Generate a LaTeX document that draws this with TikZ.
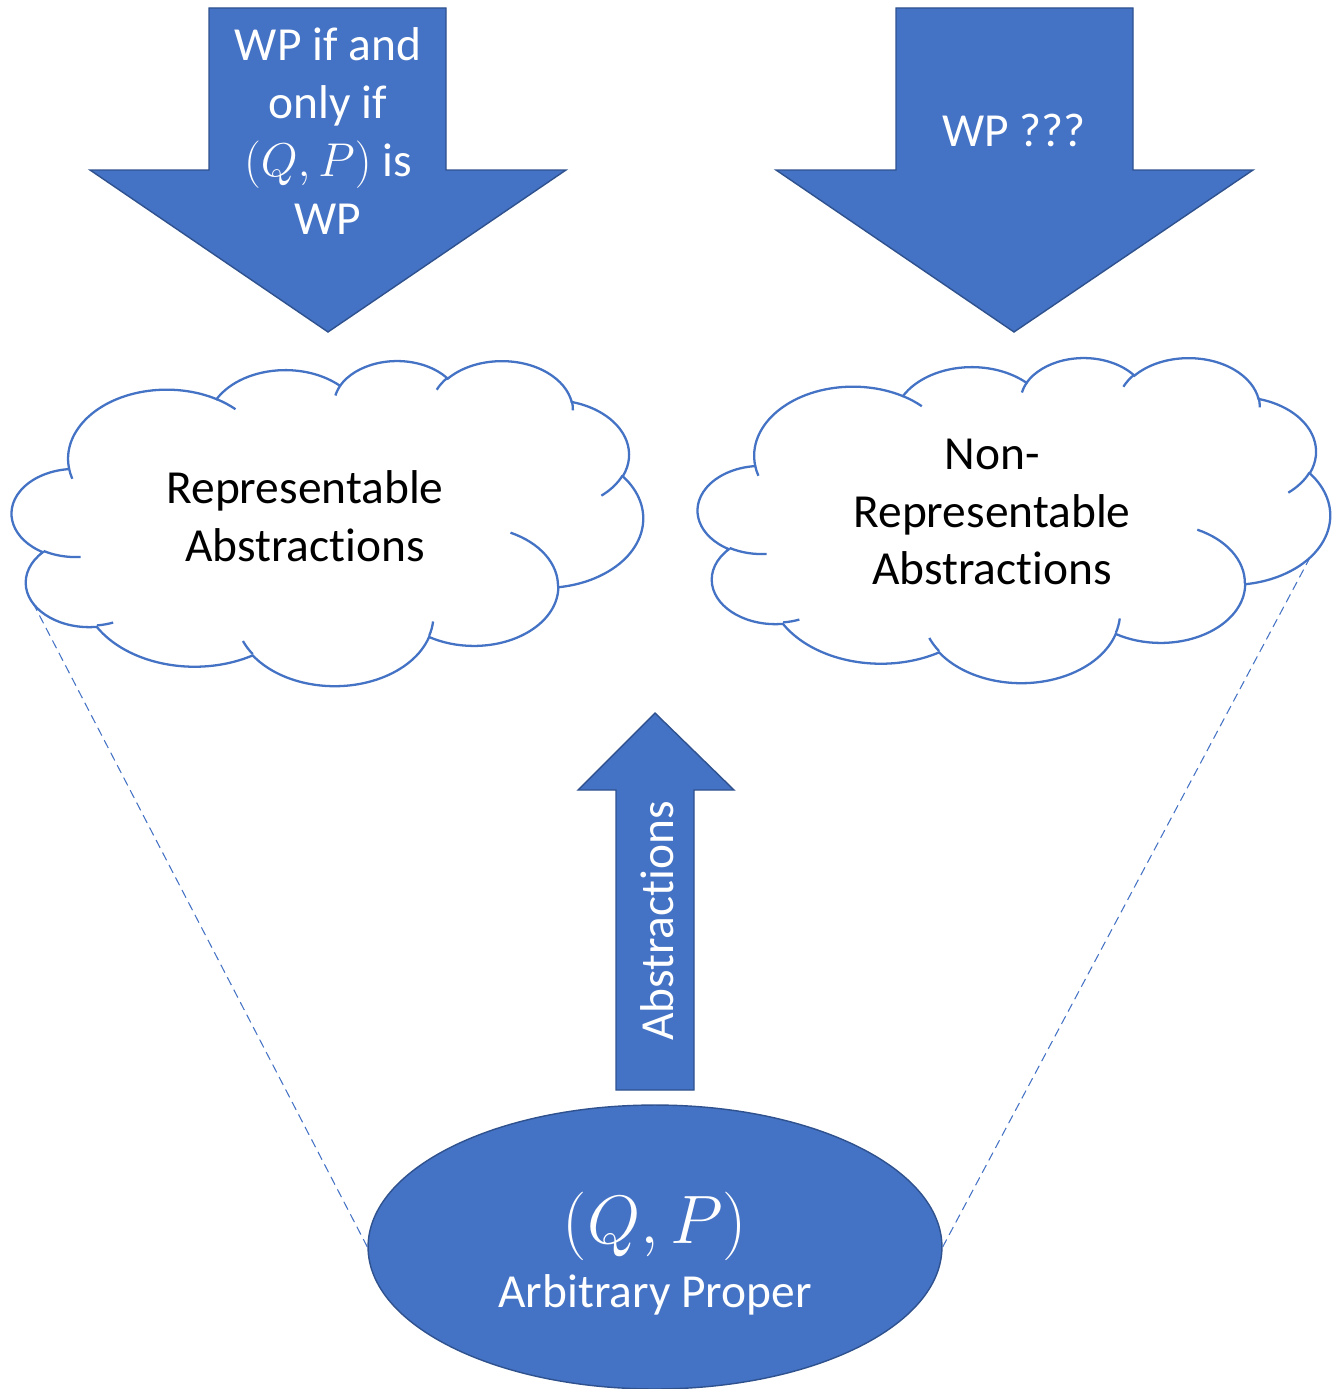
\documentclass[tikz,border=0pt]{standalone}
\usepackage{fix-cm}
\usepackage{fontspec}
\setmainfont[Ligatures=NoCommon]{Carlito}
\usetikzlibrary{shapes.geometric}

\definecolor{officeblue}{HTML}{4472C4}
\definecolor{edgeblue}{HTML}{2F528F}

\newcommand\txtsize{\fontsize{27}{32.9}\selectfont}
\newcommand\bigmath{\fontsize{39}{44}\selectfont}

\tikzset{
  % elliptic arc given by its radii, start angle and sweep (angles measured as seen)
  ooarc/.style n args={4}{insert path={arc[x radius=#1, y radius=#2,
      start angle={atan2((#1)*sin(#3),(#2)*cos(#3))},
      delta angle={mod(atan2((#1)*sin((#3)+(#4)),(#2)*cos((#3)+(#4)))-atan2((#1)*sin(#3),(#2)*cos(#3))+720,360)}]}},
  cloudline/.style={draw=officeblue, line width=1.3pt},
  blockarrow/.style={fill=officeblue, draw=edgeblue, line width=0.8pt, line join=miter},
  dashline/.style={draw=officeblue, line width=0.6pt, dash pattern=on 5pt off 3pt},
  whitetext/.style={text=white, font=\txtsize, align=center, inner sep=0pt},
  blacktext/.style={text=black, font=\txtsize, align=center, inner sep=0pt},
}

% cloud outline in a 100 x 100 box, y pointing down
\newcommand\cloudoutline{%
  \draw[cloudline, fill=white] (9.028,33.264)
    [ooarc={15.632}{21.273}{-190.487}{123.781}]
    [ooarc={12.345}{16.822}{-144.102}{89.945}]
    [ooarc={10.104}{13.762}{-145.808}{99.723}]
    [ooarc={11.243}{15.266}{-130.986}{117.242}]
    [ooarc={12.345}{16.836}{-78.709}{109.027}]
    [ooarc={15.683}{21.343}{-46.267}{130.269}]
    [ooarc={13.391}{18.211}{0.625}{114.033}]
    [ooarc={15.630}{21.331}{22.452}{115.173}]
    [ooarc={17.870}{24.405}{66.243}{75.711}]
    [ooarc={10.093}{13.699}{-274.942}{146.736}]
    [ooarc={10.058}{13.762}{-246.829}{152.519}]
    -- cycle;
  \draw[cloudline]
    (10.863,60.595) [ooarc={10.058}{13.762}{86.742}{26.430}]
    (16.037,80.785) [ooarc={10.093}{13.699}{73.610}{11.447}]
    (38.144,90.486) [ooarc={15.630}{21.331}{137.624}{14.081}]
    (66.729,80.442) [ooarc={15.630}{21.331}{6.453}{15.998}]
    (79.002,53.134) [ooarc={13.391}{18.211}{-70.292}{70.917}]
    (96.755,35.542) [ooarc={12.345}{16.836}{30.318}{27.752}]
    (88.713,12.560) [ooarc={11.243}{15.266}{-13.744}{14.854}]
    (67.310,9.148) [ooarc={11.243}{15.266}{-149.181}{18.198}]
    (51.252,10.926) [ooarc={10.104}{13.762}{-163.494}{17.700}]
    (32.407,12.019) [ooarc={15.632}{21.273}{-66.707}{12.319}]
    (9.553,36.549) [ooarc={15.632}{21.273}{157.654}{11.858}];
}

\begin{document}
\begin{tikzpicture}[x=0.02cm, y=-0.02cm]
  \useasboundingbox (0,0) rectangle (1332,1389);

  % source ellipse
  \node[ellipse, blockarrow, minimum width=11.48cm, minimum height=5.68cm, inner sep=0pt]
    (qp) at (655,1247) {};

  % dashed guides from the clouds down to the ellipse
  \coordinate (lcl) at (33,603);
  \coordinate (rcl) at (1330,520);
  \draw[dashline] (lcl) -- (qp.west);
  \draw[dashline] (rcl) -- (qp.east);

  % clouds
  \begin{scope}[shift={(12,360)}, xscale=6.31, yscale=3.25]
    \cloudoutline
  \end{scope}
  \begin{scope}[shift={(698,357)}, xscale=6.32, yscale=3.25]
    \cloudoutline
  \end{scope}
  \node[blacktext] (repr) at (305,516) {Representable\\Abstractions};
  \node[blacktext] (nonrepr) at (992,512) {Non-\\Representable\\Abstractions};

  % downward block arrows
  \draw[blockarrow] (209,8) -- (446,8) -- (446,170) -- (566,170) -- (328,332)
    -- (90,170) -- (209,170) -- cycle;
  \draw[blockarrow] (896,8) -- (1133,8) -- (1133,170) -- (1253,170) -- (1014,332)
    -- (776,170) -- (896,170) -- cycle;
  \node[whitetext] (wpiff) at (328,131) {WP if and\\only if\\$(Q,P)$ is\\WP};
  \node[whitetext] (wpq) at (1014,130) {WP ???};

  % upward block arrow
  \draw[blockarrow] (655,713) -- (734,790) -- (694,790) -- (694,1090)
    -- (616,1090) -- (616,790) -- (578,790) -- cycle;
  \node[whitetext, rotate=90] (abstr) at (657,921) {Abstractions};

  % ellipse labels
  \node[text=white, inner sep=0pt, font=\bigmath] (qplabel) at (655,1226) {$(Q,P)$};
  \node[whitetext] (arb) at (655,1295) {Arbitrary Proper};
\end{tikzpicture}
\end{document}
